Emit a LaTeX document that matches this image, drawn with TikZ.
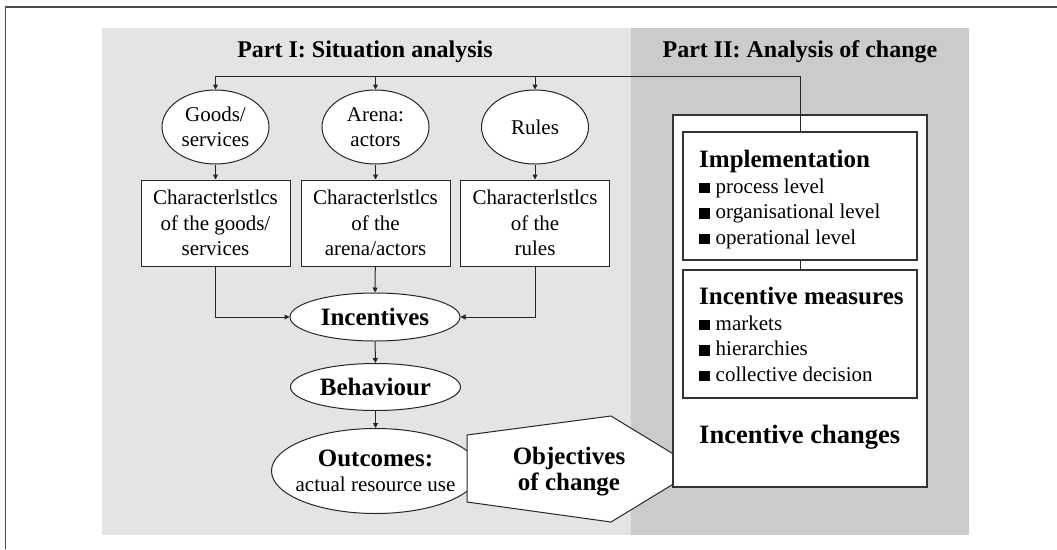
\documentclass[tikz,border=0pt]{standalone}
\usepackage{fontspec}
\setmainfont{Liberation Serif}
\usetikzlibrary{shapes.geometric,arrows.meta}
\definecolor{partone}{HTML}{E4E4E4}
\definecolor{parttwo}{HTML}{CBCBCB}
\newcommand{\sqbul}{\rule{10.5pt}{10.5pt}\hspace{6pt}}
\newcommand{\hdfont}{\fontsize{25}{26}\selectfont\bfseries}

\begin{document}
\begin{tikzpicture}[x=1pt,y=-1pt,
  every node/.style={inner sep=0pt},
  lbl/.style={font=\fontsize{21}{25.5}\selectfont, align=center},
  ttl/.style={font=\fontsize{24}{28}\selectfont\bfseries},
  hdr/.style={font=\hdfont, align=center},
  oval/.style={ellipse, draw=black!85, line width=1pt, fill=white},
  cbox/.style={rectangle, draw=black!85, line width=1pt, fill=white, minimum width=149pt, minimum height=86pt},
  lbox/.style={rectangle, draw=black!80, line width=1.2pt, fill=white, minimum width=234pt, minimum height=128pt},
  ltxt/.style={anchor=north west, align=left, font=\fontsize{21}{25.5}\selectfont},
  arr/.style={-{Triangle[length=5pt,width=5pt]}},
  con/.style={draw=black!85, line width=1pt}]
\useasboundingbox (0,0) rectangle (1057,549);
\draw [black!70, line width=1.2pt] (5.5,549) -- (5.5,7) -- (1057,7);
\fill [partone] (102,28) rectangle (631,535);
\fill [parttwo] (631,28) rectangle (969,535);
\node [ttl] (partI) at (365,52) {Part I: Situation analysis};
\node [ttl] (partII) at (800,52) {Part II: Analysis of change};
\node [oval, lbl, minimum width=107pt, minimum height=74pt] (goods) at (215.5,127) {Goods/\\services};
\node [oval, lbl, minimum width=107pt, minimum height=74pt] (arena) at (375.5,127) {Arena:\\actors};
\node [oval, lbl, minimum width=107pt, minimum height=74pt] (rules) at (535,127) {Rules};
\node [cbox, lbl] (goodsbox) at (215.5,223) {Characterlstlcs\\of the goods/\\services};
\node [cbox, lbl] (arenabox) at (375.5,223) {Characterlstlcs\\of the\\arena/actors};
\node [cbox, lbl] (rulesbox) at (535,223) {Characterlstlcs\\of the\\rules};
\node [oval, hdr, minimum width=170pt, minimum height=48pt] (incentives) at (375,317) {Incentives};
\node [oval, hdr, minimum width=170pt, minimum height=47pt] (behaviour) at (375.5,387) {Behaviour};
\node [oval, lbl, inner xsep=-9pt, minimum width=208pt, minimum height=85pt] (outcomes) at (375.5,471) {{\hdfont Outcomes:}\\actual resource use};
\coordinate (objA) at (467,435);
\coordinate (objB) at (611,416);
\coordinate (objC) at (698,469);
\coordinate (objD) at (611,522);
\coordinate (objE) at (467,502);
\draw [black!85, line width=1pt, fill=white] (objA) -- (objB) -- (objC) -- (objD) -- (objE) -- cycle;
\node [hdr] (objectives) at (569,472) {Objectives\\of change};
\node [rectangle, draw=black!80, line width=1.2pt, fill=white, minimum width=254pt, minimum height=372pt] (changes) at (800,301) {};
\node [lbox] (impl) at (800,196) {};
\node [lbox] (measures) at (800,334) {};
\node [ltxt] (impltxt) at (699,150) {{\hdfont Implementation}\\\sqbul process level\\\sqbul organisational level\\\sqbul operational level};
\node [ltxt] (meastxt) at (699,287) {{\hdfont Incentive measures}\\\sqbul markets\\\sqbul hierarchies\\\sqbul collective decision};
\node [font=\fontsize{26.5}{30}\selectfont\bfseries, anchor=base west] (chglbl) at (699,443) {Incentive changes};
\coordinate (bus) at (215.5,76);
\draw [con] (impl.north) |- (bus);
\draw [con, arr] (bus) -- (goods);
\draw [con, arr] (arena.north |- bus) -- (arena);
\draw [con, arr] (rules.north |- bus) -- (rules);
\draw [con, arr] (goods) -- (goodsbox);
\draw [con, arr] (arena) -- (arenabox);
\draw [con, arr] (rules) -- (rulesbox);
\draw [con, arr] (goodsbox.south) |- (incentives.west);
\draw [con, arr] (arenabox) -- (incentives);
\draw [con, arr] (rulesbox.south) |- (incentives.east);
\draw [con, arr] (incentives) -- (behaviour);
\draw [con, arr] (behaviour) -- (outcomes);
\draw [con] (impl) -- (measures);
\end{tikzpicture}
\end{document}
